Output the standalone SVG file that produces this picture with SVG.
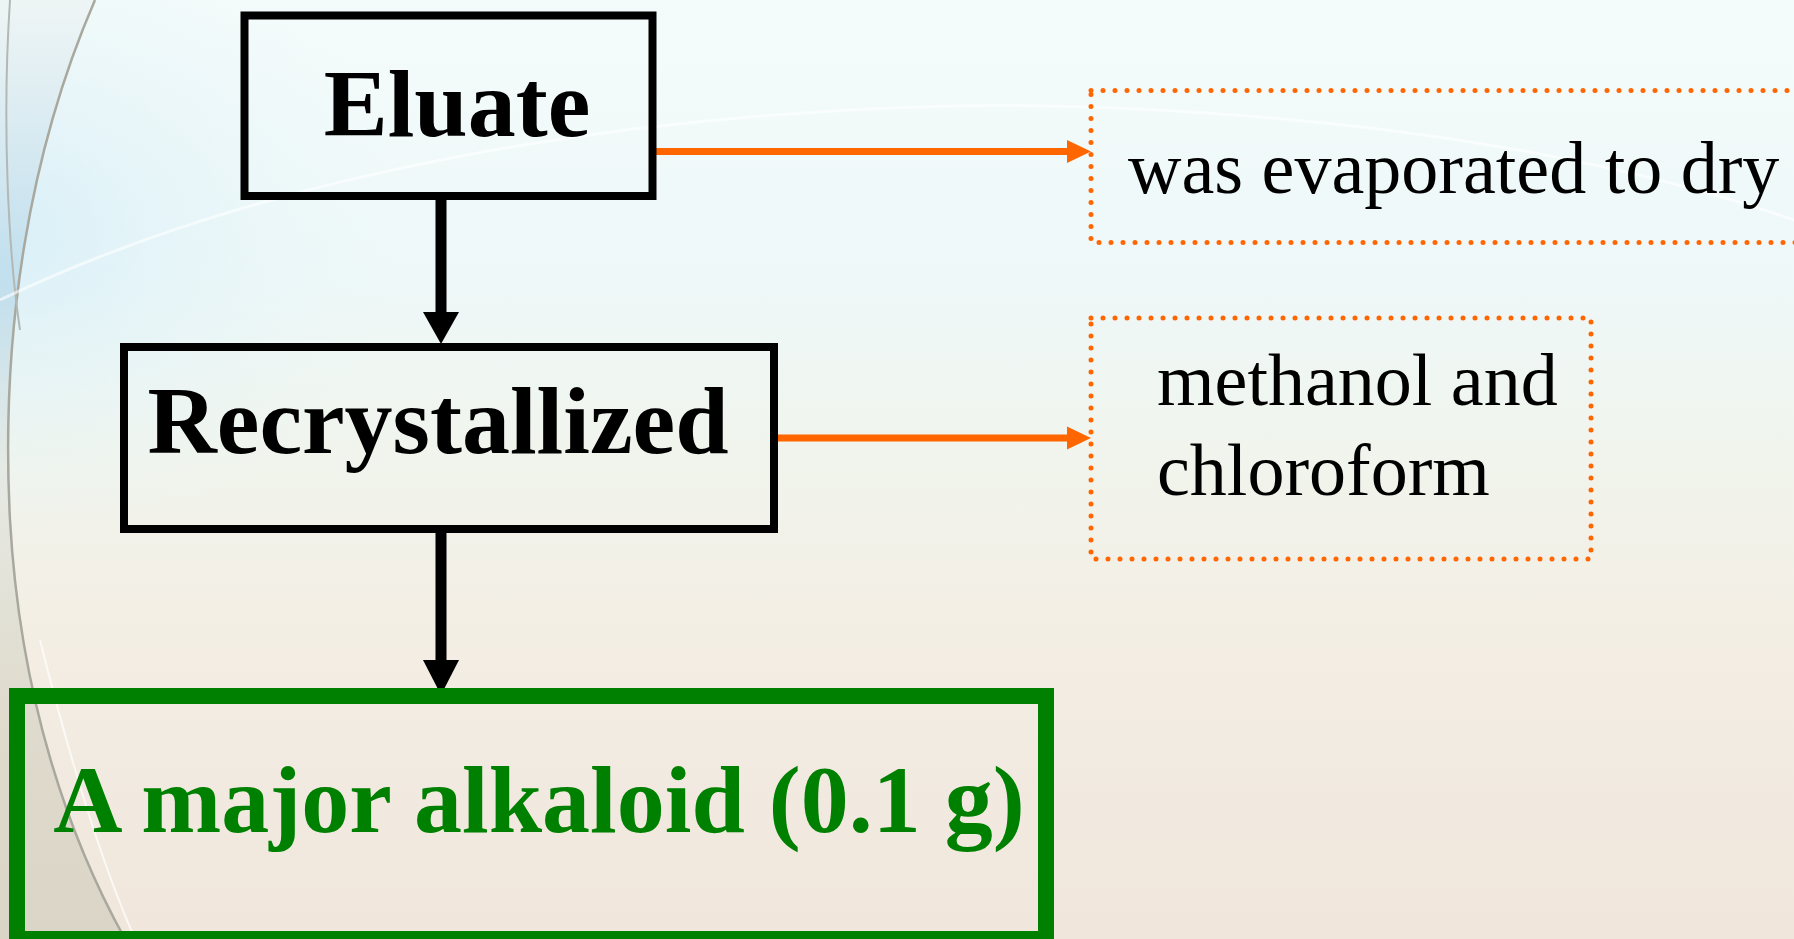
<svg xmlns="http://www.w3.org/2000/svg" width="1794" height="939" viewBox="0 0 1794 939">
  <defs>
    <linearGradient id="bg" x1="0" y1="0" x2="0" y2="1">
      <stop offset="0" stop-color="#f4fbfb"/>
      <stop offset="0.3" stop-color="#eef8f8"/>
      <stop offset="0.5" stop-color="#f1f4ec"/>
      <stop offset="0.7" stop-color="#f3ede3"/>
      <stop offset="1" stop-color="#f0e6dc"/>
    </linearGradient>
    <radialGradient id="blueTint" cx="0" cy="0.33" r="0.45">
      <stop offset="0" stop-color="#d6eef8" stop-opacity="0.9"/>
      <stop offset="1" stop-color="#e8f6f8" stop-opacity="0"/>
    </radialGradient>
    <linearGradient id="leftFill" x1="0" y1="0" x2="0" y2="1">
      <stop offset="0" stop-color="#eef4f4"/>
      <stop offset="0.3" stop-color="#bcdcec"/>
      <stop offset="0.5" stop-color="#e4e8e2"/>
      <stop offset="0.75" stop-color="#dcd8ca"/>
      <stop offset="1" stop-color="#d6d2c2"/>
    </linearGradient>
    <style>
      .box { fill: none; stroke: #000; stroke-width: 8; }
      .final { fill: none; stroke: #008000; stroke-width: 16; }
      .dotted { fill: none; stroke: #ff6600; stroke-width: 5; stroke-dasharray: 0 12; stroke-linecap: round; }
      .blab { font-family: "Liberation Serif", "Times New Roman", serif; font-weight: bold; font-size: 96px; fill: #000; text-anchor: middle; }
      .glab { font-family: "Liberation Serif", "Times New Roman", serif; font-weight: bold; font-size: 96px; fill: #008000; text-anchor: middle; }
      .note { font-family: "Liberation Serif", "Times New Roman", serif; font-size: 74px; fill: #000; }
      .blk { stroke: #000; stroke-width: 11; fill: none; }
      .org { stroke: #ff6600; stroke-width: 7; fill: none; }
    </style>
  </defs>

  <!-- background -->
  <g id="background">
    <rect x="0" y="0" width="1794" height="939" fill="url(#bg)"/>
    <rect x="0" y="0" width="900" height="700" fill="url(#blueTint)"/>
    <path d="M 0 0 L 95 0 C 30 150, 0 330, 10 520 C 20 700, 70 840, 125 939 L 0 939 Z" fill="url(#leftFill)" opacity="0.85"/>
    <path d="M 95 0 C 30 150, 0 330, 10 520 C 20 700, 70 840, 125 939" fill="none" stroke="#a9a89e" stroke-width="2.5"/>
    <path d="M 10 0 C 2 120, 8 250, 20 330" fill="none" stroke="#b4b8b4" stroke-width="2"/>
    <path d="M 40 640 C 70 760, 100 860, 135 939" fill="none" stroke="#ffffff" stroke-width="2" opacity="0.7"/>
    <path d="M 0 300 C 250 180, 600 110, 1000 105 C 1400 110, 1650 170, 1794 220" fill="none" stroke="#ffffff" stroke-width="3" opacity="0.6"/>
  </g>

  <!-- connectors -->
  <g id="connectors">
    <line class="blk" x1="441" y1="200" x2="441" y2="314"/>
    <polygon points="423,312 459,312 441,344" fill="#000"/>
    <line class="blk" x1="441" y1="533" x2="441" y2="662"/>
    <polygon points="423,660 459,660 441,695" fill="#000"/>
    <line class="org" x1="656" y1="151.5" x2="1069" y2="151.5"/>
    <polygon points="1067,140 1067,163 1091,151.5" fill="#ff6600"/>
    <line class="org" x1="778" y1="438" x2="1069" y2="438"/>
    <polygon points="1067,426.5 1067,449.5 1091,438" fill="#ff6600"/>
  </g>

  <g id="node-eluate">
    <rect class="box" x="244.5" y="15.5" width="408" height="180.5"/>
    <text class="blab" x="457" y="136">Eluate</text>
  </g>

  <g id="node-recrystallized">
    <rect class="box" x="124" y="347" width="650" height="182"/>
    <text class="blab" x="438" y="453">Recrystallized</text>
  </g>

  <g id="node-alkaloid">
    <rect class="final" x="17" y="696" width="1029" height="243"/>
    <text class="glab" x="539" y="832">A major alkaloid (0.1 g)</text>
  </g>

  <g id="note-evaporated">
    <rect class="dotted" x="1091" y="90.5" width="720" height="152"/>
    <text class="note" x="1128" y="193">was evaporated to dry</text>
  </g>

  <g id="note-solvent">
    <rect class="dotted" x="1091" y="318" width="500" height="241"/>
    <text class="note" x="1157" y="405">methanol and</text>
    <text class="note" x="1157" y="495">chloroform</text>
  </g>
</svg>
